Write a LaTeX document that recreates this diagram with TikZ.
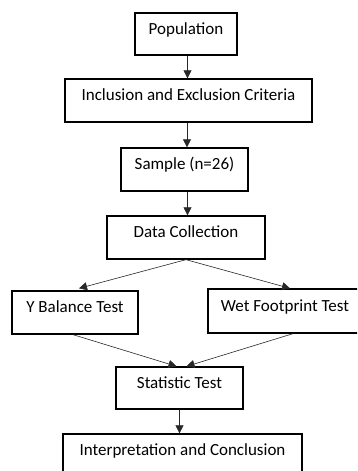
\documentclass[tikz,border=0pt]{standalone}
\usepackage{fontspec}
\setmainfont{Carlito}
\usepackage{tikz}
\usetikzlibrary{arrows.meta,calc,positioning}
\definecolor{LineGray}{RGB}{40,40,40}

\tikzset{
	box/.style={draw=black, line width=1.3pt, fill=white, text height=12pt, text depth=12pt,
		inner sep=0pt, minimum height=43pt, font=\fontsize{17}{20}\selectfont},
	arr/.style={-{Triangle[width=8pt,length=8pt]}, LineGray, line width=0.6pt}
}

\begin{document}
\begin{tikzpicture}[x=1pt, y=-1pt]
		\path[use as bounding box, clip] (0,0) rectangle (357,471);
		\fill[white] (0,0) rectangle (357,471);
		
		% main chain
		\node[box, minimum width=102pt, minimum height=42pt] (pop) at (186,34) {Population};
		\node[box, minimum width=247pt] (crit) at (188.5,100.5) {Inclusion and Exclusion Criteria};
		\node[box, minimum width=127pt] (sample) at (184.5,169.5) {Sample (n=26)};
		\node[box, minimum width=158pt] (data) at (186,237.5) {Data Collection};
		
		% the two tests
		\node[box, minimum width=126pt] (ybal) at (75,312.5) {Y Balance Test};
		\node[box, minimum width=154pt, minimum height=44pt] (wet) at (285,311) {Wet Footprint Test};
		
		\node[box, minimum width=127pt, minimum height=42pt] (stat) at (179.5,388) {Statistic Test};
		\node[box, minimum width=239pt] (interp) at (182.5,455.5) {Interpretation and Conclusion};
		
		\draw[arr] ($(pop.south)+(1.5,0)$) -- ($(pop.south |- crit.north)+(1.5,0)$);
		\draw[arr] ($(crit.south)+(-1.5,0)$) -- ($(crit.south |- sample.north)+(-1.5,0)$);
		\draw[arr] ($(sample.south)+(3,0)$) -- ($(sample.south |- data.north)+(3,0)$);
		\draw[arr] (data.south) -- ($(ybal.north)+(4,-2)$);
		\draw[arr] (data.south) -- ($(wet.north)+(5,0)$);
		\draw[arr] ($(ybal.south)+(-2,0)$) -- ($(stat.north)+(-3,0)$);
		\draw[arr] ($(wet.south)+(8,0)$) -- ($(stat.north)+(7,0)$);
		\draw[arr] (stat.south) -- (stat.south |- interp.north);
	\end{tikzpicture}
\end{document}
